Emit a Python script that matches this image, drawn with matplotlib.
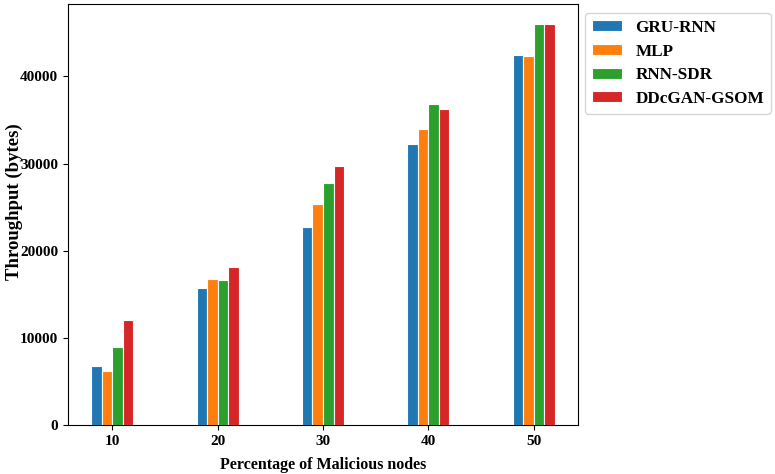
import numpy as np
import matplotlib
matplotlib.use("Agg")
import matplotlib.pyplot as plt

plt.rcParams['font.family'] = ['Liberation Serif', 'DejaVu Serif']
plt.rcParams['font.weight'] = 'bold'

nodes = [10, 20, 30, 40, 50]
gru_rnn = [6800, 15700, 22700, 32200, 42500]
mlp = [6200, 16700, 25400, 34000, 42300]
rnn_sdr = [8900, 16600, 27800, 36800, 46000]
ddcgan_gsom = [12000, 18100, 29700, 36200, 46000]

series = [("GRU-RNN", gru_rnn, "#1f77b4"),
          ("MLP", mlp, "#ff7f0e"),
          ("RNN-SDR", rnn_sdr, "#2ca02c"),
          ("DDcGAN-GSOM", ddcgan_gsom, "#d62728")]

fig = plt.figure(figsize=(7.75, 4.74), dpi=100)
ax = fig.add_axes([68 / 775, 1 - 425 / 474, 510 / 775, 421 / 474])

x = np.array(nodes)
w = 1.0
for i, (name, vals, col) in enumerate(series):
    ax.bar(x + (i - 1.5) * w, vals, w, color=col, edgecolor='white', linewidth=0.8, label=name)

ax.set_xticks(nodes)
ax.tick_params(labelsize=11)
for lab in ax.get_xticklabels() + ax.get_yticklabels():
    lab.set_fontweight('bold')
ax.set_xlabel('Percentage of Malicious nodes', fontsize=11.5, fontweight='bold')
ax.set_ylabel('Throughput (bytes)', fontsize=13.5, fontweight='bold')
ax.yaxis.set_label_coords(-0.088, 0.53)
ax.xaxis.set_label_coords(0.5, -0.075)

ax.legend(loc='upper left', bbox_to_anchor=((585 - 68) / 510, 1 - 9 / 421),
          borderaxespad=0, prop={'weight': 'bold', 'size': 12.3},
          handlelength=1.75, handleheight=0.6, handletextpad=0.8,
          borderpad=0.4, labelspacing=0.45)

fig.savefig("out.png", dpi=100)
